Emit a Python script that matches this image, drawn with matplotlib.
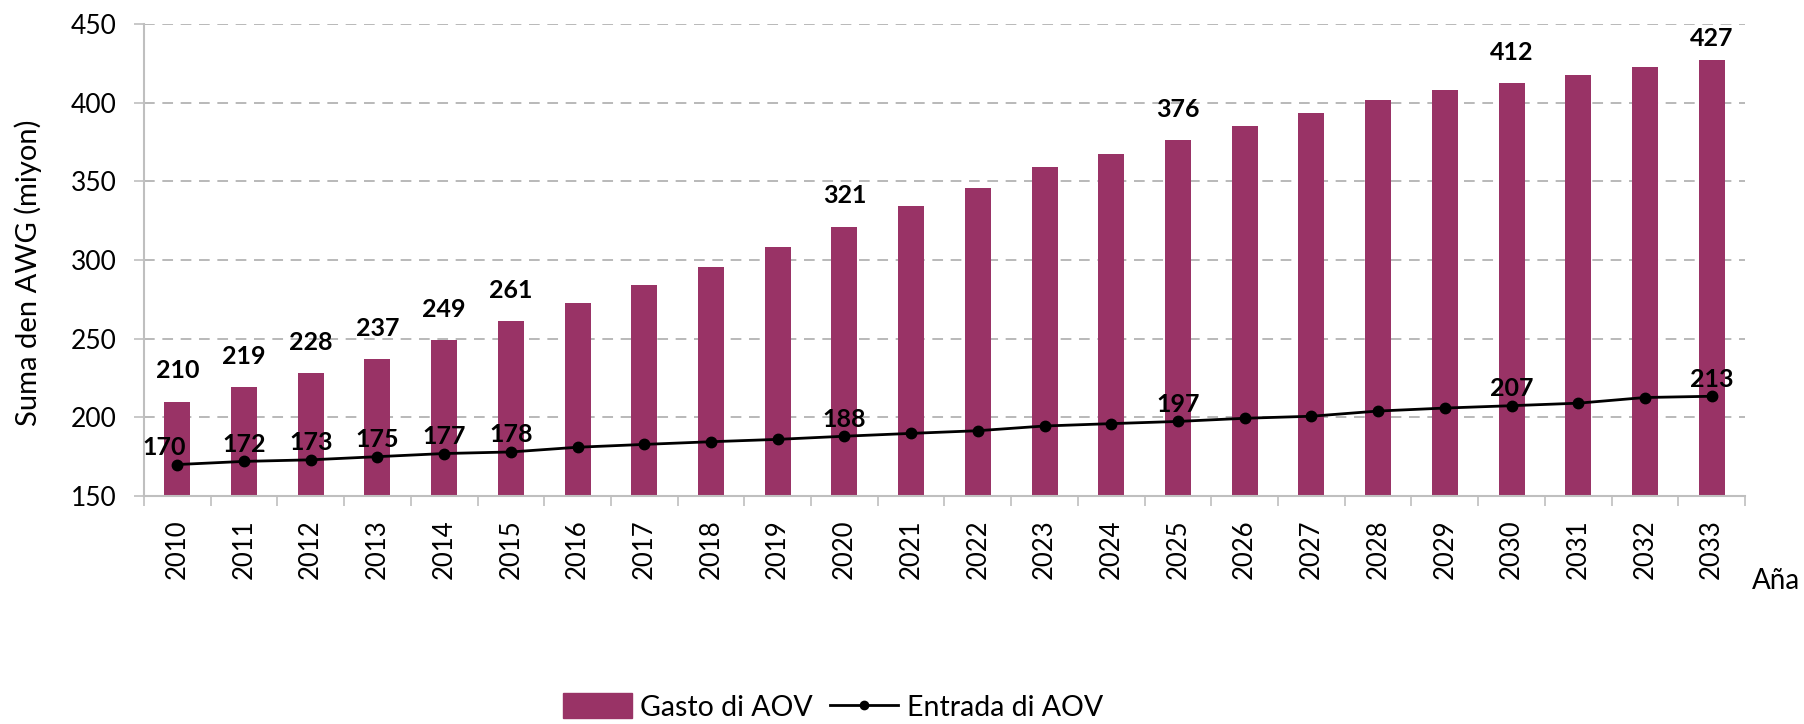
import matplotlib
matplotlib.use("Agg")
import matplotlib.pyplot as plt
import numpy as np
from matplotlib.lines import Line2D
from matplotlib.patches import Patch

# data
years = [str(y) for y in range(2010, 2034)]
gasto = [210, 219, 228, 237, 249, 261, 272.5, 284, 295.5, 308, 321, 334,
         345.5, 359, 367.5, 376, 385, 393.5, 401.5, 408, 412.4, 417.5, 422.5, 427]
entrada = [170, 172, 173, 175, 177, 178, 181, 182.8, 184.5, 186, 188, 189.8,
           191.5, 194.5, 196, 197.4, 199.4, 200.7, 204, 205.9, 207.4, 209, 212.6, 213.4]
labelled = ["2010", "2011", "2012", "2013", "2014", "2015", "2020", "2025", "2030", "2033"]

plt.rcParams['font.family'] = ['Lato', 'DejaVu Sans']
bar_color = "#993366"
grey = "#bfbfbf"

fig = plt.figure(figsize=(18.04, 7.24), dpi=100)
ax = fig.add_axes([0.0798, 0.3149, 0.8875, 0.652])

x = np.arange(len(years))
ax.bar(x, gasto, width=0.39, color=bar_color, zorder=2)
ax.plot(x, entrada, color="black", lw=2.0, marker="o", ms=7.5, zorder=3)

# value labels
for i, yr in enumerate(years):
    if yr in labelled:
        ty = min(gasto[i] + 19.7, 441)
        ax.text(x[i], ty, "%d" % round(gasto[i]), ha="center", va="center",
                fontsize=18, fontweight="bold", zorder=4)
        dx = -0.2 if i == 0 else 0
        ax.text(x[i] + dx, entrada[i] + 10.8, "%d" % round(entrada[i]), ha="center",
                va="center", fontsize=18, fontweight="bold", zorder=4)

ax.set_xlim(-0.5, len(years) - 0.5)
ax.set_ylim(150, 450)
ax.set_yticks(np.arange(150, 451, 50))
ax.set_xticks(x)
ax.set_xticklabels(years, rotation=90)
ax.set_xticks(np.arange(-0.5, len(years), 1), minor=True)
ax.tick_params(axis="x", which="major", length=0, pad=17, labelsize=18.5)
ax.tick_params(axis="x", which="minor", length=7.5, width=1.2, color=grey, direction="out")
ax.tick_params(axis="y", length=7.5, width=1.2, color=grey, pad=12, labelsize=19)

ax.grid(axis="y", color="#a6a6a6", linestyle=(0, (7, 5)), lw=1.1, zorder=0)
for s in ["top", "right"]:
    ax.spines[s].set_visible(False)
for s in ["left", "bottom"]:
    ax.spines[s].set_color(grey)
    ax.spines[s].set_linewidth(1.5)

fig.text(28 / 1804, 0.6236, "Suma den AWG (miyon)", rotation=90, ha="center",
         va="center", fontsize=21)
fig.text(1752 / 1804, 1 - 581 / 724, "Aña", ha="left", va="center", fontsize=20)

handles = [Patch(color=bar_color),
           Line2D([], [], color="black", lw=2.0, marker="o", ms=6)]
fig.legend(handles, ["Gasto di AOV", "Entrada di AOV"], loc="center",
           bbox_to_anchor=(833 / 1804, 1 - 707 / 724), ncol=2, frameon=False,
           fontsize=20.5, handlelength=2.4, handleheight=0.95, columnspacing=0.6,
           handletextpad=0.3)

fig.savefig("out.png", dpi=100)
